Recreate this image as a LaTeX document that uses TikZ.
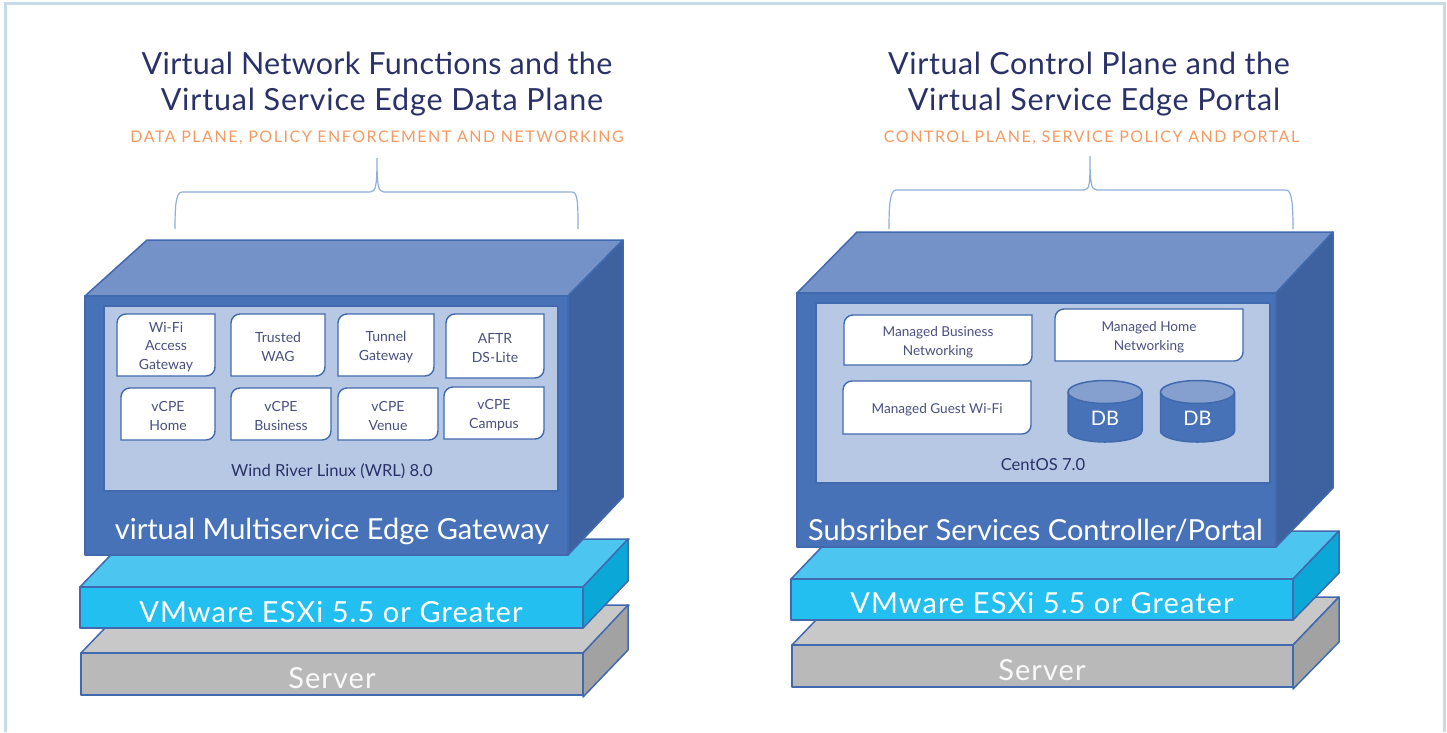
\documentclass[tikz,border=0pt]{standalone}
\usepackage{fontspec}
\setmainfont{Lato}
\definecolor{navy}{HTML}{2A3168}
\definecolor{orangeT}{HTML}{F79A62}
\definecolor{frontB}{HTML}{4872B8}
\definecolor{topB}{HTML}{7492C8}
\definecolor{sideB}{HTML}{3D629F}
\definecolor{edgeB}{HTML}{4169AE}
\definecolor{panel}{HTML}{B7C8E4}
\definecolor{cyanF}{HTML}{22BFF0}
\definecolor{cyanT}{HTML}{4CC6F0}
\definecolor{cyanS}{HTML}{0BA7D6}
\definecolor{greyF}{HTML}{B9B9B9}
\definecolor{greyT}{HTML}{C8C8C8}
\definecolor{greyS}{HTML}{A2A2A2}
\definecolor{frameC}{HTML}{C5DCE6}
\definecolor{braceC}{HTML}{8FAEDC}
\tikzset{
 x=1pt,y=-1pt,
 face/.style={draw=edgeB,line width=1.5pt,line join=round},
 wbox/.style={draw=edgeB,line width=1.4pt,fill=white},
 boxtext/.style={text=navy!85!white,align=center,font=\fontsize{14}{18.5}\selectfont},
 boxwide/.style={text=navy!85!white,align=center,font=\fontsize{13.6}{18.5}\selectfont},
 title/.style={text=navy,align=center,font=\fontsize{30.5}{36}\selectfont},
 subt/.style={text=orangeT,font=\fontsize{16}{18}\selectfont\addfontfeatures{LetterSpace=9.5}},
 oslabel/.style={text=navy,font=\fontsize{16.6}{18}\selectfont},
 bigw/.style={text=white,font=\fontsize{29}{32}\selectfont},
 spaced/.style={text=white,font=\fontsize{29}{32}\selectfont\addfontfeatures{LetterSpace=3.7}},
 brace/.style={draw=braceC,line width=1.2pt}
}
\newcommand{\softbox}[7][boxtext]{%
 \draw[wbox] (#3,#6) -- (#3,#4+9) to[out=90,in=180] (#3+9,#4) -- (#5,#4) -- (#5,#6-9) to[out=-90,in=0] (#5-9,#6) -- cycle;
 \node[#1] (#2) at ({(#3+#5)/2},{(#4+#6)/2+2}) {#7};}
\newcommand{\slab}[8]{%
 \draw[face,fill=#8] (#1,#3) -- (#1+#5,#6) -- (#2+#5,#6) -- (#2,#3) -- cycle;
 \draw[face,fill=#7] (#1,#3) rectangle (#2,#4);}
\newcommand{\slabside}[6]{%
 \draw[face,fill=#6] (#1,#2) -- (#1+#3,#4) -- (#1+#3,#5) -- (#1,#5+47) -- cycle;}
\newcommand{\dbcyl}[3]{%
 \draw[face,fill=frontB] (#2,392) -- (#2,431) arc[start angle=180,end angle=0,x radius=37,y radius=11] -- (#2+74,392) -- cycle;
 \draw[face,fill=topB!75!panel] (#2+37,392) ellipse[x radius=37,y radius=11.5];
 \node[text=white,font=\fontsize{20}{22}\selectfont] (#1) at (#2+37,418) {#3};}
\begin{document}
\begin{tikzpicture}
\useasboundingbox (0,0) rectangle (1447,732);
\fill[white] (0,0) rectangle (1447,732);
\draw[frameC,line width=3pt] (5,732) -- (5,3.5) -- (1444.5,3.5) -- (1444.5,732);

% titles
\node[title] (t1) at (377,84) {{\addfontfeature{LetterSpace=1}Virtual Network Functions and the}\\\hspace*{10pt}{\addfontfeature{LetterSpace=2.7}Virtual Service Edge Data Plane}};
\node[subt] (s1) at (377,138) {DATA PLANE, POLICY ENFORCEMENT AND NETWORKING};
\node[title] (t2) at (1089,84) {{\addfontfeature{LetterSpace=1.9}Virtual Control Plane and the}\\\hspace*{10pt}{\addfontfeature{LetterSpace=2.5}Virtual Service Edge Portal}};
\node[subt] (s2) at (1091.5,138) {CONTROL PLANE, SERVICE POLICY AND PORTAL};

% braces
\draw[brace] (175,229) .. controls (175,205) and (176,192) .. (182,192) -- (370,192) .. controls (376,192) and (377,185) .. (377,158) .. controls (377,185) and (378,192) .. (384,192) -- (572,192) .. controls (578,192) and (578,205) .. (578,229);
\draw[brace] (889,229) .. controls (889,205) and (890,190) .. (896,190) -- (1084,190) .. controls (1090,190) and (1090,183) .. (1090,156) .. controls (1090,183) and (1091,190) .. (1097,190) -- (1286,190) .. controls (1292,190) and (1293,205) .. (1293,229);

% left stack
\slab{81}{583}{653}{695}{46}{605}{greyF}{greyT}
\slabside{583}{653}{45}{605}{650}{greyS}
\node[spaced,text=white!92!greyF] (srv1) at (332,678) {Server};
\slab{80}{583}{587}{628}{46}{539}{cyanF}{cyanT}
\slabside{583}{587}{45}{539}{581}{cyanS}
\node[spaced] (vm1) at (331,612) {VMware ESXi 5.5 or Greater};
\draw[face,fill=topB] (85,296) -- (147,240) -- (623,240) -- (568,296) -- cycle;
\draw[face,fill=sideB] (568,296) -- (623,240) -- (623,497) -- (568,555) -- cycle;
\draw[face,fill=frontB] (85,296) rectangle (568,555);
\draw[face,fill=panel] (104,306) rectangle (558,491);
\node[bigw] (gw) at (332,531) {virtual Multiservice Edge Gateway};
\node[oslabel] (wrl) at (332,471) {Wind River Linux (WRL) 8.0};
\softbox{a1}{117}{314}{215}{376}{Wi-Fi\\Access\\Gateway}
\softbox{a2}{231}{314}{325}{376}{Trusted\\WAG}
\softbox{a3}{338}{314}{434}{376}{Tunnel\\Gateway}
\softbox{a4}{446}{314}{544}{378}{AFTR\\DS-Lite}
\softbox{b1}{121}{388}{215}{440}{vCPE\\Home}
\softbox{b2}{231}{388}{331}{440}{vCPE\\Business}
\softbox{b3}{338}{388}{438}{440}{vCPE\\Venue}
\softbox{b4}{444}{387}{544}{439}{vCPE\\Campus}

% right stack
\slab{792}{1293}{645}{687}{46}{597}{greyF}{greyT}
\slabside{1293}{645}{46}{597}{642}{greyS}
\node[spaced,text=white!92!greyF] (srv2) at (1042,670) {Server};
\slab{791}{1293}{579}{620}{46}{531}{cyanF}{cyanT}
\slabside{1293}{579}{46}{531}{573}{cyanS}
\node[spaced] (vm2) at (1042,603) {VMware ESXi 5.5 or Greater};
\draw[face,fill=topB] (797,293) -- (857,232) -- (1333,232) -- (1276,293) -- cycle;
\draw[face,fill=sideB] (1276,293) -- (1333,232) -- (1333,488) -- (1276,547) -- cycle;
\draw[face,fill=frontB] (797,293) rectangle (1276,547);
\draw[face,fill=panel] (816,303) rectangle (1270,483);
\node[bigw] (ssc) at (1035.5,530) {Subsriber Services Controller/Portal};
\node[oslabel] (cent) at (1043,465) {CentOS 7.0};
\softbox[boxwide]{c1}{844}{315}{1032}{365}{Managed Business\\Networking}
\softbox[boxwide]{c2}{1055}{309}{1243}{361}{Managed Home\\Networking}
\softbox[boxwide]{c3}{843}{381}{1031}{434}{Managed Guest Wi-Fi}
\dbcyl{d1}{1068}{DB}
\dbcyl{d2}{1160.5}{DB}
\end{tikzpicture}
\end{document}
